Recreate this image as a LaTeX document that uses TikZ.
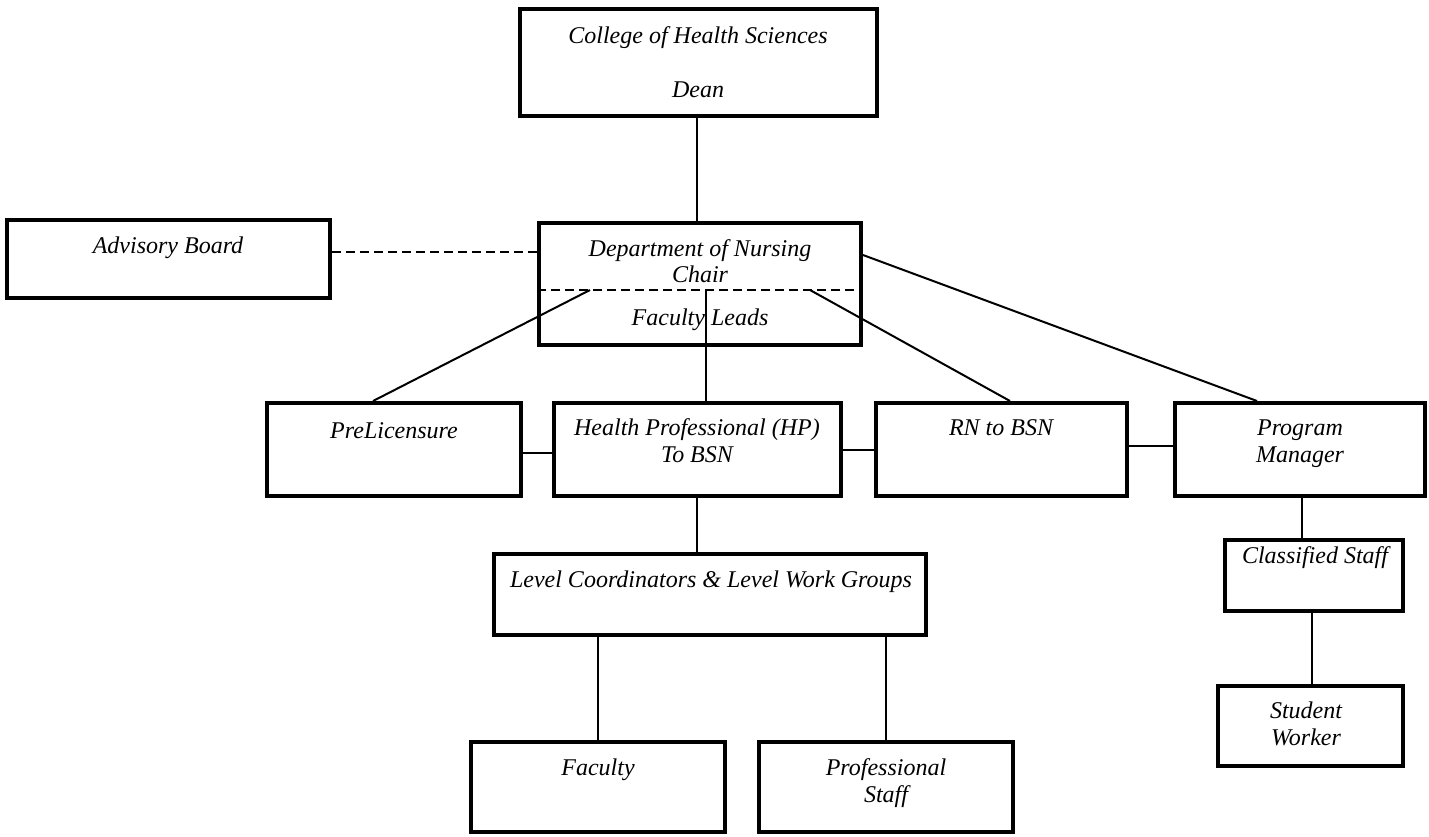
\documentclass[tikz,border=0pt]{standalone}
\usepackage{fontspec}
\setmainfont{Liberation Serif}
\begin{document}
\begin{tikzpicture}[x=1pt,y=-1pt,
  box/.style={draw, line width=4pt, rectangle, inner sep=0pt},
  lbl/.style={anchor=base, inner sep=0pt, font=\fontsize{24}{27}\selectfont\itshape},
  conn/.style={line width=2pt},
  dconn/.style={line width=2pt, dash pattern=on 9pt off 5pt}]
\useasboundingbox (0,0) rectangle (1429,836);
% boxes
\node[box, minimum width=357pt, minimum height=107pt] (dean) at (698.5,62.5) {};
\node[box, minimum width=323pt, minimum height=78pt] (adv) at (168.5,259) {};
\node[box, minimum width=322pt, minimum height=122pt] (dept) at (700,284) {};
\node[box, minimum width=254pt, minimum height=93pt] (pre) at (394,449.5) {};
\node[box, minimum width=287pt, minimum height=93pt] (hp) at (697.5,449.5) {};
\node[box, minimum width=251pt, minimum height=93pt] (rn) at (1001.5,449.5) {};
\node[box, minimum width=250pt, minimum height=93pt] (pm) at (1300,449.5) {};
\node[box, minimum width=432pt, minimum height=81pt] (lvl) at (710,594.5) {};
\node[box, minimum width=178pt, minimum height=71pt] (cls) at (1314,575.5) {};
\node[box, minimum width=185pt, minimum height=80pt] (stu) at (1310.5,726) {};
\node[box, minimum width=254pt, minimum height=90pt] (fac) at (598,787) {};
\node[box, minimum width=254pt, minimum height=90pt] (prof) at (886,787) {};
% texts
\node[lbl] (t1) at (698,43) {College of Health Sciences};
\node[lbl] (t2) at (698,97) {Dean};
\node[lbl] (t3) at (168,253) {Advisory Board};
\node[lbl] (t4) at (700,256) {Department of Nursing};
\node[lbl] (t5) at (700,282) {Chair};
\node[lbl] (t6) at (700,325) {Faculty Leads};
\node[lbl] (t7) at (394,438) {PreLicensure};
\node[lbl] (t8) at (697,435) {Health Professional (HP)};
\node[lbl] (t9) at (697,462) {To BSN};
\node[lbl] (t10) at (1001,435) {RN to BSN};
\node[lbl] (t11) at (1300,435) {Program};
\node[lbl] (t12) at (1300,462) {Manager};
\node[lbl] (t13) at (711,587) {Level Coordinators \& Level Work Groups};
\node[lbl] (t14) at (1315,563) {Classified Staff};
\node[lbl] (t15) at (1306,718) {Student};
\node[lbl] (t16) at (1306,745) {Worker};
\node[lbl] (t17) at (598,775) {Faculty};
\node[lbl] (t18) at (886,775) {Professional};
\node[lbl] (t19) at (886,802) {Staff};
% inner dashed divider
\coordinate (dl) at (dept.west |- 0,290);
\coordinate (dr) at (dept.east |- 0,290);
\draw[dconn] (dl) -- (dr);
% connectors
\draw[conn] (dean.south -| 697,0) -- (dept.north -| 697,0);
\draw[dconn] (adv.east |- 0,252) -- (dept.west |- 0,252);
\coordinate (d1) at (590,290);
\coordinate (d2) at (706,290);
\coordinate (d3) at (810,290);
\coordinate (d4) at (dept.east |- 0,255);
\draw[conn] (d1) -- (pre.north -| 373,0);
\draw[conn] (d2) -- (hp.north -| 706,0);
\draw[conn] (d3) -- (rn.north -| 1010,0);
\draw[conn] (d4) -- (pm.north -| 1257,0);
\draw[conn] (pre.east |- 0,453) -- (hp.west |- 0,453);
\draw[conn] (hp.east |- 0,450) -- (rn.west |- 0,450);
\draw[conn] (rn.east |- 0,446) -- (pm.west |- 0,446);
\draw[conn] (hp.south -| 697,0) -- (lvl.north -| 697,0);
\draw[conn] (pm.south -| 1302,0) -- (cls.north -| 1302,0);
\draw[conn] (cls.south -| 1312,0) -- (stu.north -| 1312,0);
\draw[conn] (lvl.south -| 598,0) -- (fac.north -| 598,0);
\draw[conn] (lvl.south -| 886,0) -- (prof.north -| 886,0);
\end{tikzpicture}
\end{document}
